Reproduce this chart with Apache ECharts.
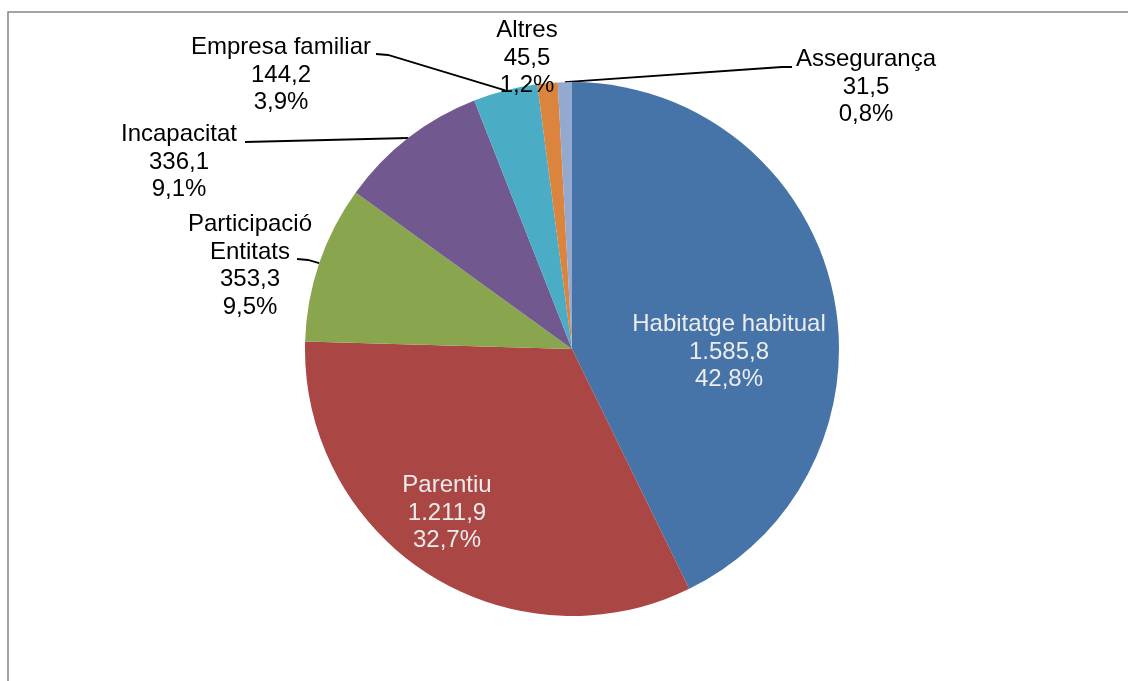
<!DOCTYPE html>
<html>
<head>
<meta charset="utf-8">
<script src="https://cdn.jsdelivr.net/npm/echarts@6/dist/echarts.min.js"></script>
<style>
  html, body { margin: 0; padding: 0; background: #fff; }
  #chart { width: 1128px; height: 681px; }
</style>
</head>
<body>
<div id="chart"></div>
<script>
// data
var categories = ['Habitatge habitual', 'Parentiu', 'Participació\nEntitats', 'Incapacitat', 'Empresa familiar', 'Altres', 'Assegurança'];
var values = [1585.8, 1211.9, 353.3, 336.1, 144.2, 45.5, 31.5];
var colors = ['#4674A8', '#AA4643', '#89A54E', '#71588F', '#4BACC6', '#DB843D', '#93A9CF'];

// label placement (centre of each label block) and leader line bends
var labelPos = [[729, 352], [447, 513], [250, 266], [179, 162], [281, 75], [527, 58], [866, 87]];
var leaderTail = [null, null, [[308, 260], [297, 259]], [[245, 142]], [[388, 55], [376, 54]], null, [[782, 67], [792, 67]]];
var insideIdx = [0, 1];

var total = values.reduce(function (a, b) { return a + b; }, 0);

function fmtNum(v) {
    var parts = v.toFixed(1).split('.');
    return parts[0].replace(/\B(?=(\d{3})+(?!\d))/g, '.') + ',' + parts[1];
}
function fmtPct(v) {
    return (v / total * 100).toFixed(1).replace('.', ',') + '%';
}

var chart = echarts.init(document.getElementById('chart'));

var pieData = values.map(function (v, i) {
    var inside = insideIdx.indexOf(i) >= 0;
    return {
        name: categories[i],
        value: v,
        itemStyle: { color: colors[i] },
        label: {
            position: inside ? 'inside' : 'outside',
            color: inside ? '#ececec' : '#000'
        },
        labelLine: { show: !inside && leaderTail[i] != null }
    };
});

var option = {
    animation: false,
    backgroundColor: '#fff',
    graphic: [{
        type: 'rect',
        shape: { x: 8, y: 12, width: 1140, height: 700 },
        style: { fill: 'none', stroke: '#868686', lineWidth: 1.5 },
        silent: true
    }],
    series: [{
        type: 'pie',
        center: [572, 349],
        radius: 267,
        startAngle: 90,
        clockwise: true,
        avoidLabelOverlap: false,
        itemStyle: { borderWidth: 0 },
        label: {
            show: true,
            fontFamily: 'Liberation Sans, Arial, sans-serif',
            fontSize: 24,
            lineHeight: 27.5,
            align: 'center',
            formatter: function (p) {
                return p.name + '\n' + fmtNum(p.value) + '\n' + fmtPct(p.value);
            }
        },
        labelLine: {
            smooth: false,
            lineStyle: { color: '#000', width: 1.8 }
        },
        labelLayout: function (params) {
            var i = params.dataIndex;
            var out = {
                x: labelPos[i][0],
                y: labelPos[i][1],
                align: 'center',
                verticalAlign: 'middle'
            };
            if (leaderTail[i] && params.labelLinePoints) {
                out.labelLinePoints = [params.labelLinePoints[0]].concat(leaderTail[i]);
            }
            return out;
        },
        data: pieData
    }]
};

chart.setOption(option);
</script>
</body>
</html>
